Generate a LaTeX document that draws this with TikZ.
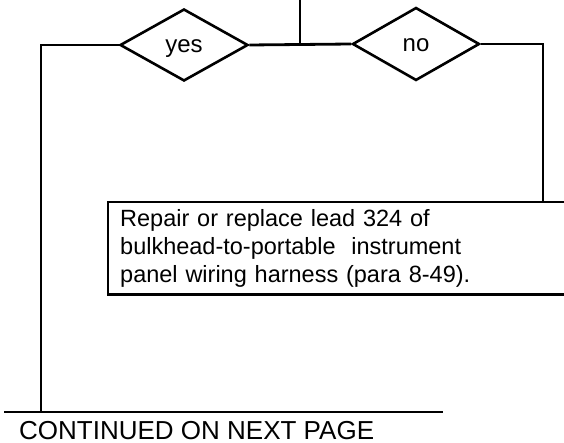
\documentclass[tikz,border=0pt]{standalone}
\usepackage{fontspec}
\setmainfont{Liberation Sans}
\usetikzlibrary{shapes.geometric}
\begin{document}
\begin{tikzpicture}[x=1pt,y=-1pt,
  wire/.style={line width=2.8pt},
  dec/.style={diamond, draw, line width=2.6pt, inner sep=0pt, text height=16pt, text depth=0pt,
              font=\fontsize{24}{26}\selectfont},
  lbl/.style={font=\fontsize{23.5}{28}\selectfont}]
\useasboundingbox (0,0) rectangle (564,443);
\node[dec, minimum width=128pt, minimum height=72pt] (yes) at (184,45) {yes};
\node[dec, minimum width=127pt, minimum height=73pt] (no) at (416,44) {no};
\coordinate (top) at (300,0);
\coordinate (j) at (300,45);
\node[lbl, anchor=north west, minimum width=458pt, minimum height=92pt, text width=444pt,
      inner xsep=12pt, inner ysep=5pt, align=left] (box) at (108,202)
  {Repair or replace lead 324 of\\bulkhead-to-portable\ \ instrument\\panel wiring harness (para 8-49).};
\coordinate (lb) at (41,412);
\coordinate (bl) at (4,412);
\coordinate (br) at (443,412);
\node[font=\fontsize{26}{28}\selectfont, anchor=base west, inner sep=0pt] (cont) at (19,439) {CONTINUED ON NEXT PAGE};
\draw[wire] (top) -- (j);
\draw[wire] (yes.east) -- (no.west);
\draw[wire] (yes.west) -| (lb);
\draw[wire] (no.east) -| (box.north -| 543,0);
\draw[wire] (box.north east) -- (box.north west) -- (box.south west) -- (box.south east);
\draw[wire] (bl) -- (br);
\end{tikzpicture}
\end{document}
